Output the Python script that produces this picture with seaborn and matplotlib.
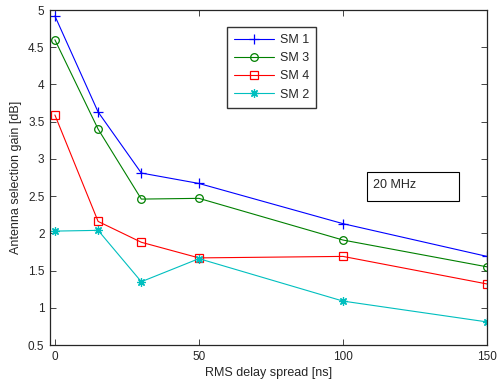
import matplotlib
matplotlib.use('Agg')
import matplotlib.pyplot as plt
import seaborn as sns
import pandas as pd
from matplotlib.patches import Rectangle

# data
delay = [0, 15, 30, 50, 100, 150]
sm1 = [4.92, 3.63, 2.81, 2.67, 2.13, 1.69]
sm3 = [4.60, 3.40, 2.46, 2.47, 1.91, 1.55]
sm4 = [3.59, 2.16, 1.88, 1.67, 1.69, 1.32]
sm2 = [2.03, 2.04, 1.35, 1.66, 1.09, 0.81]

# name, values, colour, marker, marker size
series = [('SM 1', sm1, 'blue', '+', 6.5),
          ('SM 3', sm3, 'green', 'o', 5.5),
          ('SM 4', sm4, 'red', 's', 6),
          ('SM 2', sm2, '#00bfbf', (8, 2, 0), 6)]

sns.set_style('ticks')
plt.rcParams['font.family'] = ['Liberation Sans', 'DejaVu Sans']
plt.rcParams['xtick.direction'] = 'in'
plt.rcParams['ytick.direction'] = 'in'

fig = plt.figure(figsize=(4.97, 3.82), dpi=100)
ax = fig.add_axes([50 / 497, 1 - 345 / 382, 437 / 497, 335 / 382])

for name, vals, col, mk, ms in series:
    df = pd.DataFrame({'delay': delay, 'gain': vals})
    sns.lineplot(data=df, x='delay', y='gain', ax=ax, color=col, marker=mk,
                 markersize=ms, mfc='none', mec=col, mew=0.9,
                 linewidth=0.8, label=name)

ax.set_xlim(-1.7, 150)
ax.set_ylim(0.5, 5)
ax.set_xticks([0, 50, 100, 150])
ax.set_yticks([0.5, 1, 1.5, 2, 2.5, 3, 3.5, 4, 4.5, 5])
ax.set_yticklabels(['0.5', '1', '1.5', '2', '2.5', '3', '3.5', '4', '4.5', '5'])
ax.tick_params(top=True, right=True, labelsize=8.5, length=4, width=0.6, pad=4)
for s in ax.spines.values():
    s.set_linewidth(0.9)
ax.set_xlabel('RMS delay spread [ns]', fontsize=9, labelpad=3)
ax.set_ylabel('Antenna selection gain [dB]', fontsize=9, labelpad=4)

leg = ax.legend(loc='upper left', bbox_to_anchor=(177 / 437, 1 - 17 / 335),
                borderaxespad=0, fontsize=9, frameon=True, fancybox=False,
                handlelength=3.2, borderpad=0.55, labelspacing=0.5,
                handletextpad=0.5)
leg.get_frame().set_edgecolor('black')
leg.get_frame().set_linewidth(1.0)

# "20 MHz" annotation box
ax.add_patch(Rectangle((317 / 437, 1 - 191 / 335), 92 / 437, 29 / 335,
                       transform=ax.transAxes, fc='white', ec='black', lw=0.8,
                       zorder=5))
ax.text(323 / 437, 1 - 175 / 335, '20 MHz', transform=ax.transAxes,
        fontsize=9, ha='left', va='center', zorder=6)

fig.savefig('out.png', dpi=100)
